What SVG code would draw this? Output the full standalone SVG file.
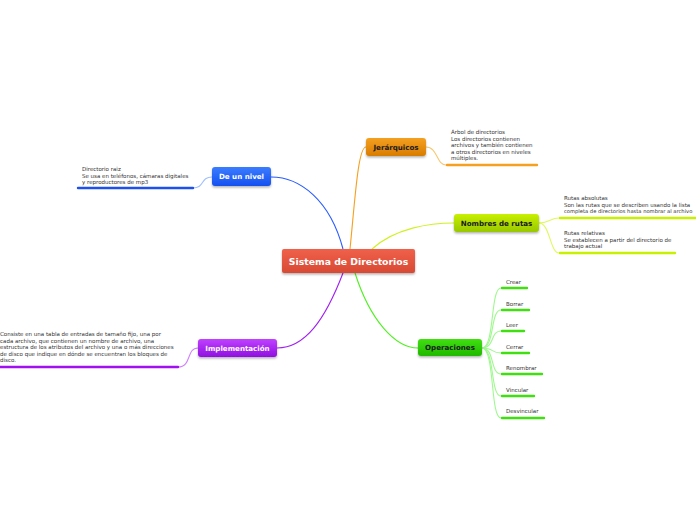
<svg xmlns="http://www.w3.org/2000/svg" width="696" height="520" viewBox="0 0 696 520">
<defs>
<linearGradient id="gRed" x1="0" y1="0" x2="0" y2="1"><stop offset="0" stop-color="#f0604a"/><stop offset="1" stop-color="#d84a34"/></linearGradient>
<linearGradient id="gBlue" x1="0" y1="0" x2="0" y2="1"><stop offset="0" stop-color="#3a7cff"/><stop offset="1" stop-color="#1650f0"/></linearGradient>
<linearGradient id="gOrange" x1="0" y1="0" x2="0" y2="1"><stop offset="0" stop-color="#f5a020"/><stop offset="1" stop-color="#d87c00"/></linearGradient>
<linearGradient id="gLime" x1="0" y1="0" x2="0" y2="1"><stop offset="0" stop-color="#c8f000"/><stop offset="1" stop-color="#98c800"/></linearGradient>
<linearGradient id="gGreen" x1="0" y1="0" x2="0" y2="1"><stop offset="0" stop-color="#40e010"/><stop offset="1" stop-color="#20b800"/></linearGradient>
<linearGradient id="gPurple" x1="0" y1="0" x2="0" y2="1"><stop offset="0" stop-color="#c040ff"/><stop offset="1" stop-color="#9010e0"/></linearGradient>
<filter id="sh" x="-20%" y="-30%" width="140%" height="170%"><feDropShadow dx="0" dy="1.5" stdDeviation="1.2" flood-color="#000" flood-opacity="0.3"/></filter>
</defs>
<style>
.lbl{font-family:"DejaVu Sans",Verdana,sans-serif;font-weight:bold;font-size:7.1px;text-anchor:middle;dominant-baseline:central}
.big{font-size:9.3px}
.t{font-family:"DejaVu Sans",Verdana,sans-serif;font-size:5.5px;fill:#333}
.tn{font-size:5.2px}
.c{fill:none;stroke-width:1.1}
.u{fill:none;stroke-width:2.4;stroke-linecap:round}
</style>
<rect width="696" height="520" fill="#fff"/>
<g id="connectors">
<path class="c" stroke="#2a5cff" d="M343,249 C330,200 300,177 271,177"/>
<path class="c" stroke="#a0c0ff" d="M193,188 C205,188 200,177 212,177"/>
<path class="c" stroke="#f5a020" d="M350,249 C355,200 358,147 366,147"/>
<path class="c" stroke="#f8c870" d="M426,147 C438,147 436,165 446,165"/>
<path class="c" stroke="#d0f020" d="M372,249 C395,228 430,223 454,223"/>
<path class="c" stroke="#e0f860" d="M539,223 C550,223 550,218 559,218"/>
<path class="c" stroke="#e0f860" d="M539,223 C550,223 550,253 559,253"/>
<path class="c" stroke="#50f020" d="M355,273 C370,320 395,348 418,348"/>
<g stroke="#a0f890">
<path class="c" d="M482,348 C495,348 490,288 501,288"/>
<path class="c" d="M482,348 C495,348 490,310 501,310"/>
<path class="c" d="M482,348 C495,348 490,331 501,331"/>
<path class="c" d="M482,348 C495,348 490,353 501,353"/>
<path class="c" d="M482,348 C495,348 490,374 501,374"/>
<path class="c" d="M482,348 C495,348 490,396 501,396"/>
<path class="c" d="M482,348 C495,348 490,418 501,418"/>
</g>
<path class="c" stroke="#a020f0" d="M343,273 C325,320 305,348 277,348"/>
<path class="c" stroke="#d080ff" d="M178,367 C192,367 186,348 198,348"/>
</g>
<g id="central">
<rect x="282" y="249" width="133" height="24" rx="2" fill="url(#gRed)" filter="url(#sh)"/>
<text class="lbl big" x="348.5" y="261.5" fill="#fff">Sistema de Directorios</text>
</g>
<g id="de-un-nivel">
<rect x="212" y="167" width="59" height="19" rx="3" fill="url(#gBlue)" filter="url(#sh)"/>
<text class="lbl" x="241.5" y="176.5" fill="#fff">De un nivel</text>
<text class="t" x="82" y="171">Directorio raiz</text>
<text class="t" x="82" y="177.5">Se usa en teléfonos, cámaras digitales</text>
<text class="t" x="82" y="184">y reproductores de mp3</text>
<path class="u" stroke="#1e50f0" d="M78,188 H193"/>
</g>
<g id="jerarquicos">
<rect x="366" y="138" width="60" height="18" rx="3" fill="url(#gOrange)" filter="url(#sh)"/>
<text class="lbl" x="396" y="147" fill="#1a1a1a">Jerárquicos</text>
<text class="t" x="451" y="134">Árbol de directorios</text>
<text class="t" x="451" y="140.5">Los directorios contienen</text>
<text class="t" x="451" y="147">archivos y también contienen</text>
<text class="t" x="451" y="153.5">a otros directorios en niveles</text>
<text class="t" x="451" y="160">múltiples.</text>
<path class="u" stroke="#f5a020" d="M447,165 H537"/>
</g>
<g id="nombres-de-rutas">
<rect x="454" y="214" width="85" height="18" rx="3" fill="url(#gLime)" filter="url(#sh)"/>
<text class="lbl" x="496.5" y="223" fill="#1a1a1a">Nombres de rutas</text>
<text class="t" x="564" y="200">Rutas absolutas</text>
<text class="t" x="564" y="206.5">Son las rutas que se describen usando la lista</text>
<text class="t tn" x="564" y="213">completa de directorios hasta nombrar al archivo</text>
<path class="u" stroke="#c8f000" d="M560,218 H696"/>
<text class="t" x="564" y="235">Rutas relativas</text>
<text class="t" x="564" y="241.5">Se establecen a partir del directorio de</text>
<text class="t" x="564" y="248">trabajo actual</text>
<path class="u" stroke="#c8f000" d="M560,253 H675"/>
</g>
<g id="operaciones">
<rect x="418" y="339" width="64" height="17" rx="3" fill="url(#gGreen)" filter="url(#sh)"/>
<text class="lbl" x="450" y="347.5" fill="#1a1a1a">Operaciones</text>
<g stroke="#40e010">
<text class="t" x="506" y="284" stroke="none">Crear</text>
<path class="u" d="M502,288 H527"/>
<text class="t" x="506" y="305.5" stroke="none">Borrar</text>
<path class="u" d="M502,310 H529"/>
<text class="t" x="506" y="327" stroke="none">Leer</text>
<path class="u" d="M502,331 H524"/>
<text class="t" x="506" y="348.5" stroke="none">Cerrar</text>
<path class="u" d="M502,353 H529"/>
<text class="t" x="506" y="370" stroke="none">Renombrar</text>
<path class="u" d="M502,374 H542"/>
<text class="t" x="506" y="391.5" stroke="none">Vincular</text>
<path class="u" d="M502,396 H534"/>
<text class="t" x="506" y="413" stroke="none">Desvincular</text>
<path class="u" d="M502,418 H544"/>
</g>
</g>
<g id="implementacion">
<rect x="198" y="339" width="79" height="18" rx="3" fill="url(#gPurple)" filter="url(#sh)"/>
<text class="lbl" x="237.5" y="348" fill="#fff">Implementación</text>
<text class="t" x="0" y="336">Consiste en una tabla de entradas de tamaño fijo, una por</text>
<text class="t" x="0" y="342.5">cada  archivo, que contienen un nombre de archivo, una</text>
<text class="t" x="0" y="349">estructura de los atributos del archivo y una o más direcciones</text>
<text class="t" x="0" y="355.5">de disco  que indique en dónde se encuentran los bloques de</text>
<text class="t" x="0" y="362">disco.</text>
<path class="u" stroke="#a010f0" d="M0,367 H178"/>
</g>
</svg>
